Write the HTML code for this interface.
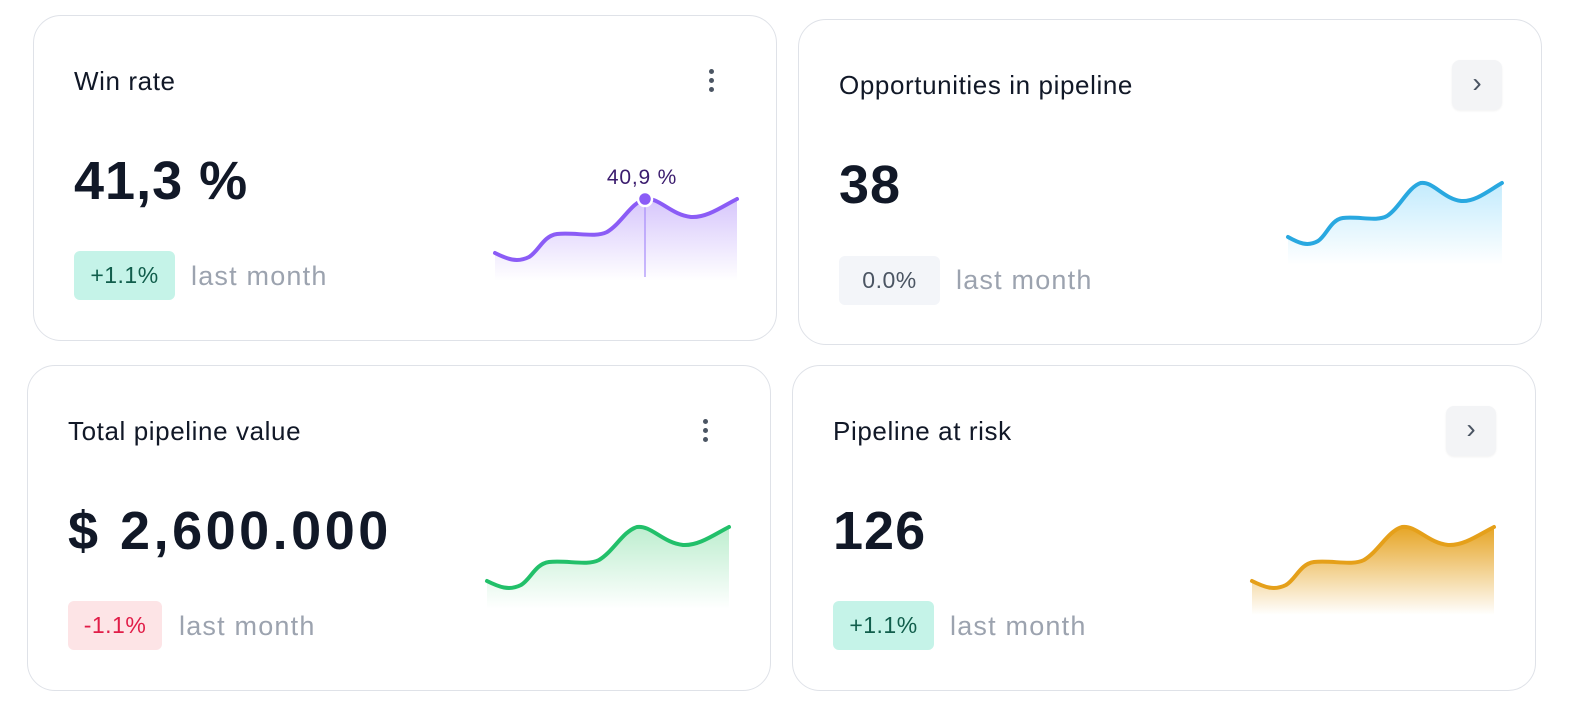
<!DOCTYPE html>
<html><head><meta charset="utf-8"><style>
body{margin:0;width:1578px;height:710px;background:#fff;font-family:"Liberation Sans",sans-serif;position:relative;overflow:hidden}
.card{position:absolute;width:744px;height:326px;border:1.5px solid #dfe2e8;border-radius:28px;box-sizing:border-box;background:#fff}
.t{position:absolute;font-size:26px;color:#111827;white-space:nowrap;letter-spacing:0.6px}
.v{position:absolute;font-size:54px;font-weight:bold;color:#111827;white-space:nowrap;letter-spacing:1px}
.b{position:absolute;height:49px;border-radius:6px;font-size:23px;line-height:49px;text-align:center;letter-spacing:0.5px}
.lm{position:absolute;font-size:27px;color:#9ca3af;white-space:nowrap;letter-spacing:1.2px}
.btn{position:absolute;width:50px;height:50px;border-radius:8px;background:#f3f4f6;box-shadow:0 1px 2px rgba(0,0,0,.06);color:#4b5563;font-size:28px;text-align:center;line-height:46px}
.dots{position:absolute;width:6px}
.dots i{display:block;width:5px;height:5px;border-radius:50%;background:#4b5563;margin-bottom:4px}
svg{position:absolute;overflow:visible}
</style></head><body>
<svg width="0" height="0"><defs>
<linearGradient id="gp" x1="0" y1="0" x2="0" y2="1"><stop offset="0" stop-color="#8b5cf6" stop-opacity=".35"/><stop offset="1" stop-color="#8b5cf6" stop-opacity="0"/></linearGradient>
<linearGradient id="gb" x1="0" y1="0" x2="0" y2="1"><stop offset="0" stop-color="#38bdf8" stop-opacity=".3"/><stop offset="1" stop-color="#38bdf8" stop-opacity="0"/></linearGradient>
<linearGradient id="gg" x1="0" y1="0" x2="0" y2="1"><stop offset="0" stop-color="#22c55e" stop-opacity=".3"/><stop offset="1" stop-color="#22c55e" stop-opacity="0"/></linearGradient>
<linearGradient id="go" x1="0" y1="0" x2="0" y2="1"><stop offset="0" stop-color="#e5a01a" stop-opacity=".95"/><stop offset="1" stop-color="#e5a01a" stop-opacity="0"/></linearGradient>
</defs></svg>

<div class="card" style="left:33px;top:15px"></div>
<div class="t" style="left:74px;top:66px">Win rate</div>
<div class="dots" style="left:709px;top:69px"><i></i><i></i><i></i></div>
<div class="v" style="left:74px;top:150px">41,3 %</div>
<div class="b" style="left:74px;top:251px;width:101px;background:#c5f3e8;color:#115e4c">+1.1%</div>
<div class="lm" style="left:191px;top:261px">last month</div>
<svg style="left:495px;top:199px" width="242" height="82">
<path d="M0,54 C12,60 22,64 34,58 C44,52 48,37 62,35 C80,33 100,39 112,33 C126,25 136,4 150,0 C164,-2 176,16 196,18 C212,19 228,7 242,0 L242,82 L0,82Z" fill="url(#gp)"/>
<path d="M0,54 C12,60 22,64 34,58 C44,52 48,37 62,35 C80,33 100,39 112,33 C126,25 136,4 150,0 C164,-2 176,16 196,18 C212,19 228,7 242,0" fill="none" stroke="#8b5cf6" stroke-width="4" stroke-linecap="round"/>
<line x1="150" y1="0" x2="150" y2="78" stroke="#a78bfa" stroke-width="1.2"/>
<circle cx="150" cy="0" r="7" fill="#8b5cf6" stroke="#fff" stroke-width="2.5"/>
<text x="147" y="-15" text-anchor="middle" font-size="21" fill="#3b1c6e" font-family="Liberation Sans" letter-spacing="0.8">40,9 %</text>
</svg>

<div class="card" style="left:798px;top:19px"></div>
<div class="t" style="left:839px;top:70px">Opportunities in pipeline</div>
<div class="btn" style="left:1452px;top:60px">›</div>
<div class="v" style="left:839px;top:154px">38</div>
<div class="b" style="left:839px;top:256px;width:101px;background:#f3f5f9;color:#4b5563">0.0%</div>
<div class="lm" style="left:956px;top:265px">last month</div>
<svg style="left:1288px;top:183px" width="214" height="82">
<g transform="scale(0.884,1)">
<path d="M0,54 C12,60 22,64 34,58 C44,52 48,37 62,35 C80,33 100,39 112,33 C126,25 136,4 150,0 C164,-2 176,16 196,18 C212,19 228,7 242,0 L242,82 L0,82Z" fill="url(#gb)"/>
<path d="M0,54 C12,60 22,64 34,58 C44,52 48,37 62,35 C80,33 100,39 112,33 C126,25 136,4 150,0 C164,-2 176,16 196,18 C212,19 228,7 242,0" fill="none" stroke="#29a8e0" stroke-width="4" stroke-linecap="round" vector-effect="non-scaling-stroke"/>
</g></svg>

<div class="card" style="left:27px;top:365px"></div>
<div class="t" style="left:68px;top:416px">Total pipeline value</div>
<div class="dots" style="left:703px;top:419px"><i></i><i></i><i></i></div>
<div class="v" style="left:68px;top:500px;letter-spacing:3.5px">$ 2,600.000</div>
<div class="b" style="left:68px;top:601px;width:94px;background:#fde4e6;color:#e11d48">-1.1%</div>
<div class="lm" style="left:179px;top:611px">last month</div>
<svg style="left:487px;top:527px" width="244" height="82">
<path d="M0,54 C12,60 22,64 34,58 C44,52 48,37 62,35 C80,33 100,39 112,33 C126,25 136,4 150,0 C164,-2 176,16 196,18 C212,19 228,7 242,0 L242,82 L0,82Z" fill="url(#gg)"/>
<path d="M0,54 C12,60 22,64 34,58 C44,52 48,37 62,35 C80,33 100,39 112,33 C126,25 136,4 150,0 C164,-2 176,16 196,18 C212,19 228,7 242,0" fill="none" stroke="#22c06a" stroke-width="4" stroke-linecap="round"/>
</svg>

<div class="card" style="left:792px;top:365px"></div>
<div class="t" style="left:833px;top:416px">Pipeline at risk</div>
<div class="btn" style="left:1446px;top:406px">›</div>
<div class="v" style="left:833px;top:500px">126</div>
<div class="b" style="left:833px;top:601px;width:101px;background:#c5f3e8;color:#115e4c">+1.1%</div>
<div class="lm" style="left:950px;top:611px">last month</div>
<svg style="left:1252px;top:527px" width="244" height="88">
<path d="M0,54 C12,60 22,64 34,58 C44,52 48,37 62,35 C80,33 100,39 112,33 C126,25 136,4 150,0 C164,-2 176,16 196,18 C212,19 228,7 242,0 L242,88 L0,88Z" fill="url(#go)"/>
<path d="M0,54 C12,60 22,64 34,58 C44,52 48,37 62,35 C80,33 100,39 112,33 C126,25 136,4 150,0 C164,-2 176,16 196,18 C212,19 228,7 242,0" fill="none" stroke="#e5a01a" stroke-width="4" stroke-linecap="round"/>
</svg>
</body></html>
